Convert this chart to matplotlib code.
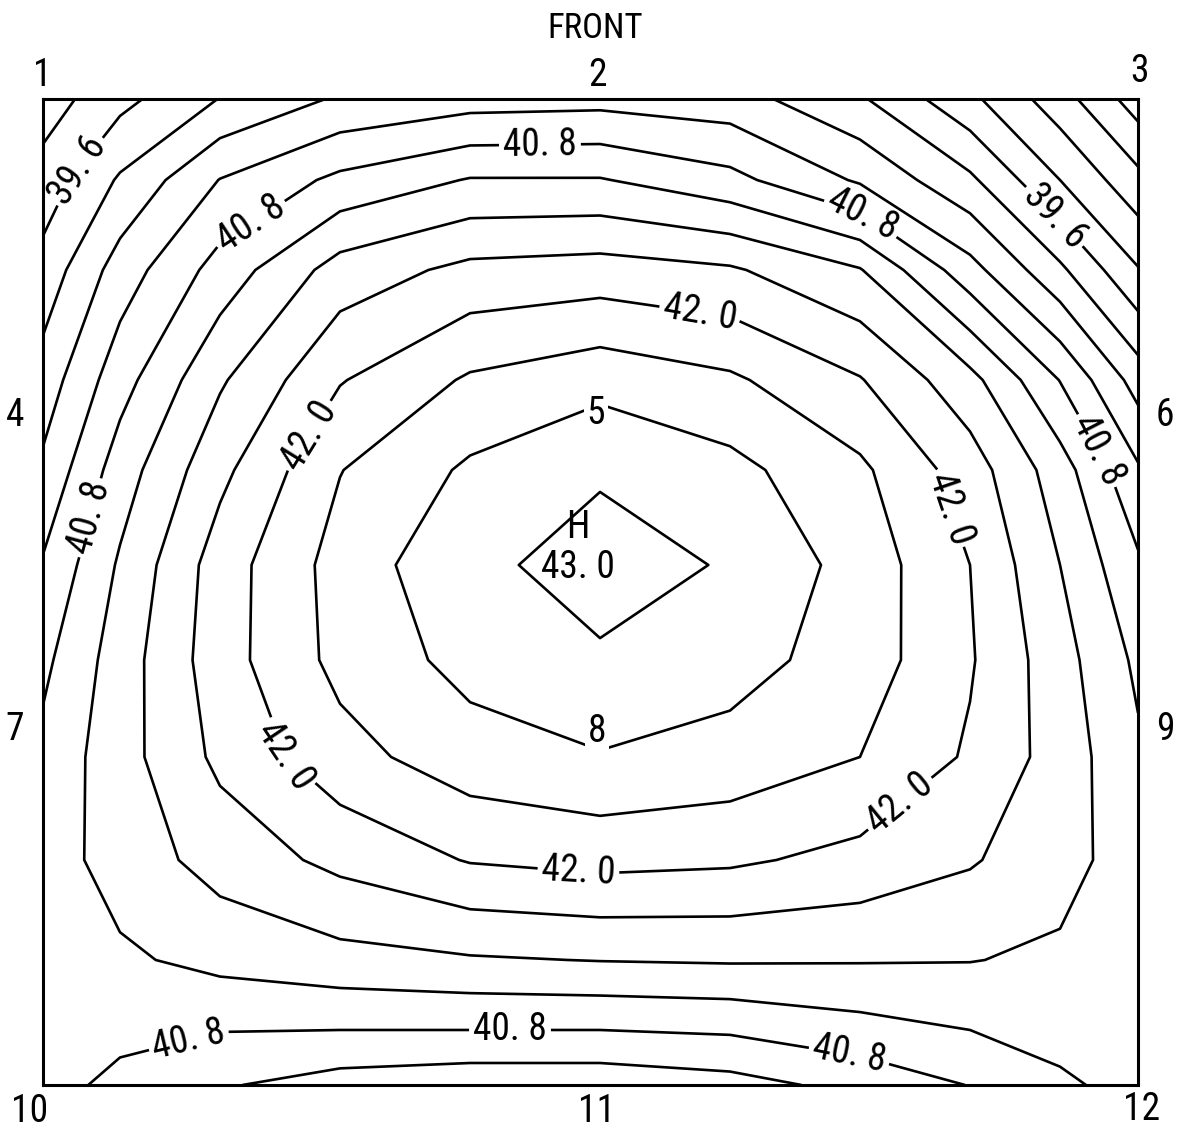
import numpy as np
import matplotlib
matplotlib.use("Agg")
import matplotlib.pyplot as plt
from matplotlib import font_manager

# ---------------- data ----------------
# sample positions across the box (0 = left wall, 1 = right wall)
x_pos = [0.0, 0.0703, 0.1616, 0.2712, 0.3900, 0.5087, 0.6274, 0.7461, 0.8466, 0.9288, 1.0]
# sample positions down the box (0 = front/top edge, 1 = rear/bottom edge)
y_pos = [0.0, 0.0822, 0.1734, 0.2850, 0.3763, 0.4726, 0.5690, 0.6673, 0.7718, 0.8732, 0.9442, 1.0]

# temperature field, one row per y position (top to bottom)
temp_rows = [
    [39.15, 39.51, 39.91, 40.24, 40.37, 40.40, 40.33, 39.94, 39.37, 38.83, 38.25],
    [39.42, 39.94, 40.51, 40.87, 41.12, 41.12, 40.89, 40.46, 39.96, 39.30, 38.79],
    [39.71, 40.34, 40.92, 41.53, 41.78, 41.83, 41.74, 41.42, 40.61, 39.96, 39.32],
    [40.03, 40.68, 41.36, 41.98, 42.34, 42.50, 42.35, 42.02, 41.50, 40.79, 40.07],
    [40.26, 40.95, 41.62, 42.29, 42.65, 42.87, 42.69, 42.36, 41.85, 41.24, 40.54],
    [40.53, 41.14, 41.85, 42.42, 42.84, 43.00, 42.88, 42.48, 42.00, 41.40, 40.85],
    [40.73, 41.25, 41.87, 42.39, 42.70, 42.87, 42.72, 42.46, 42.03, 41.52, 41.04],
    [40.88, 41.28, 41.77, 42.19, 42.47, 42.58, 42.49, 42.30, 41.96, 41.57, 41.15],
    [40.95, 41.23, 41.52, 41.78, 42.02, 42.09, 42.05, 41.91, 41.73, 41.51, 41.25],
    [40.95, 41.05, 41.19, 41.30, 41.37, 41.41, 41.43, 41.42, 41.41, 41.35, 41.25],
    [40.87, 40.87, 40.81, 40.80, 40.80, 40.80, 40.84, 40.99, 41.10, 41.20, 41.25],
    [40.90, 40.73, 40.53, 40.37, 40.30, 40.30, 40.39, 40.59, 40.81, 41.05, 41.20],
]

plain_levels = [38.4, 38.7, 39.0, 39.3, 39.9, 40.2, 40.5,
                41.1, 41.4, 41.7, 42.3, 42.6, 42.9]
labelled_levels = [39.6, 40.8, 42.0]

max_value_text = "43. 0"
front_text = "FRONT"
point_names = ["1", "2", "3", "4", "5", "6", "7", "8", "9", "10", "11", "12"]

# ---------------- style ----------------
avail = {f.name for f in font_manager.fontManager.ttflist}
family = [f for f in ["Liberation Sans Narrow", "Roboto Condensed", "DejaVu Sans"] if f in avail]
plt.rcParams["font.family"] = family

W, H = 1178, 1139
fig = plt.figure(figsize=(W / 100, H / 100), dpi=100)
left, right, top, bottom = 43 / W, 1138 / W, 1 - 99 / H, 1 - 1085 / H
ax = fig.add_axes([left, bottom, right - left, top - bottom])

X, Y = np.meshgrid(np.array(x_pos), np.array(y_pos))
Z = np.array(temp_rows)

ax.contour(X, Y, Z, levels=plain_levels, colors="black", linewidths=1.9)
cs_lab = ax.contour(X, Y, Z, levels=labelled_levels, colors="black", linewidths=1.9)

ax.set_xlim(0, 1)
ax.set_ylim(1, 0)
ax.set_xticks([])
ax.set_yticks([])
for s in ax.spines.values():
    s.set_linewidth(2.2)
    s.set_color("black")

# contour label placement (layout)
def fx(px):
    return (px - 43) / 1095

def fy(py):
    return (py - 99) / 986

label_spots = [(80, 172), (1058, 213),
               (540, 150), (245, 215), (862, 215), (80, 515), (1098, 450),
               (190, 1045), (510, 1025), (850, 1050),
               (700, 312), (300, 430), (945, 510), (260, 765), (905, 810), (578, 877)]
manual = [(fx(a), fy(b)) for a, b in label_spots]
ax.clabel(cs_lab, manual=manual, inline=True,
          inline_spacing=4, fontsize=27,
          fmt=lambda v: f"{v:.1f}".replace(".", ". "))

# point numbers around the box
txt = dict(fontsize=27, color="black", ha="center", va="center", clip_on=False)
outer = {"1": (42, 75), "2": (597, 75), "3": (1140, 72), "4": (15, 415),
         "6": (1165, 415), "7": (15, 730), "9": (1165, 730),
         "10": (30, 1112), "11": (597, 1112), "12": (1142, 1110)}
for name in point_names:
    if name in outer:
        a, b = outer[name]
        ax.text(fx(a), fy(b), name, **txt)

inner = {"5": (596, 413), "8": (597, 732)}
for name, (a, b) in inner.items():
    ax.text(fx(a), fy(b), name, bbox=dict(facecolor="white", edgecolor="none", pad=2), **txt)

ax.text(fx(578), fy(528), "H", **txt)
ax.text(fx(578), fy(568), max_value_text, **txt)
ax.text(fx(595), fy(28), front_text, fontsize=25, color="black", ha="center", va="center", clip_on=False)

fig.savefig("out.png", dpi=100, facecolor="white")
